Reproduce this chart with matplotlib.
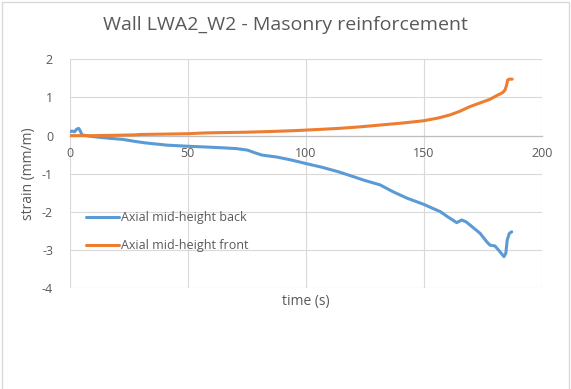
import matplotlib
matplotlib.use("Agg")
import matplotlib.pyplot as plt
from matplotlib.patches import Rectangle

# Strain at mid-height, back gauge
time_back = [0, 1, 2, 3, 3.8, 4.5, 5.2, 8, 12, 17, 22.7, 27.5, 32, 41.4, 50.7,
             58.4, 65, 70.7, 75.4, 78, 81.5, 87.7, 94, 100, 107, 114, 119,
             124.8, 131.5, 137, 143, 150, 154, 157, 160, 164, 166.1, 168,
             169.6, 173.9, 176.7, 178.1, 180.2, 182.3, 184, 184.8, 185.4,
             186.3, 187.3]
strain_back = [0.1, 0.12, 0.1, 0.17, 0.19, 0.12, 0.02, -0.01, -0.04, -0.07,
               -0.1, -0.15, -0.19, -0.25, -0.28, -0.30, -0.32, -0.34, -0.38,
               -0.44, -0.51, -0.56, -0.64, -0.73, -0.83, -0.95, -1.05, -1.17,
               -1.29, -1.47, -1.64, -1.80, -1.91, -1.99, -2.12, -2.28, -2.21,
               -2.26, -2.34, -2.56, -2.78, -2.87, -2.89, -3.04, -3.17, -3.08,
               -2.73, -2.56, -2.52]

# Strain at mid-height, front gauge
time_front = [0, 10, 20, 27.5, 30, 40, 50, 57, 65, 75, 86, 95, 105, 114, 123,
              132, 141, 150, 156, 161, 165, 169.6, 174, 178, 181, 183.5, 184.5,
              185.1, 185.6, 186.3, 187.5]
strain_front = [0.0, 0.0, 0.01, 0.02, 0.03, 0.04, 0.05, 0.07, 0.08, 0.09, 0.11,
                0.13, 0.16, 0.19, 0.23, 0.28, 0.33, 0.39, 0.46, 0.54, 0.63,
                0.76, 0.86, 0.95, 1.05, 1.13, 1.20, 1.32, 1.46, 1.48, 1.48]

series_labels = ["Axial mid-height back", "Axial mid-height front"]
x_ticks = [0, 50, 100, 150, 200]
y_ticks = [-4, -3, -2, -1, 0, 1, 2]

plt.rcParams["font.family"] = ["Open Sans", "DejaVu Sans"]
plt.rcParams["axes.unicode_minus"] = False
text_color = "#595959"
grid_color = "#D9D9D9"

W, H = 571, 389
fig = plt.figure(figsize=(W / 100, H / 100), dpi=100)

# thin outer frame around the chart
fig.patches.append(Rectangle((2 / W, -0.01), (569 - 2) / W, 1.0 + 0.01 - 1.5 / H,
                             transform=fig.transFigure, fill=False,
                             edgecolor="#D9D9D9", linewidth=1.0))

left, right, top, bottom = 69.7, 541.7, 59.3, 288.3
ax = fig.add_axes([left / W, (H - bottom) / H, (right - left) / W, (bottom - top) / H])

ax.plot(time_back, strain_back, color="#5B9BD5", lw=2.2, solid_joinstyle="round",
        solid_capstyle="round", label=series_labels[0], zorder=3)
ax.plot(time_front, strain_front, color="#ED7D31", lw=2.2, solid_joinstyle="round",
        solid_capstyle="round", label=series_labels[1], zorder=3)

ax.set_xlim(0, 200)
ax.set_ylim(-4, 2)
ax.set_xticks(x_ticks)
ax.set_yticks(y_ticks)
ax.grid(True, color=grid_color, lw=0.8, zorder=0)
ax.set_axisbelow(True)

for side in ["top", "right", "left"]:
    ax.spines[side].set_visible(False)
ax.spines["bottom"].set_position(("data", 0))
ax.spines["bottom"].set_color("#BFBFBF")
ax.spines["bottom"].set_linewidth(0.9)
ax.spines["bottom"].set_zorder(1)

ax.tick_params(axis="both", length=0, labelsize=9, colors=text_color)
ax.tick_params(axis="x", pad=8)
ax.tick_params(axis="y", pad=12)

ax.set_ylabel("strain (mm/m)", fontsize=10, color=text_color, labelpad=4)
fig.text((left + right) / 2 / W, 1 - 301.7 / H, "time (s)", fontsize=10,
         color=text_color, ha="center", va="center")
fig.text(0.5, 1 - 25 / H, "Wall LWA2_W2 - Masonry reinforcement", fontsize=14,
         color=text_color, ha="center", va="center")

leg = ax.legend(loc="upper left", bbox_to_anchor=(0.024, 0.359), frameon=False,
                fontsize=9, labelcolor=text_color, handlelength=2.65,
                handletextpad=0.15, labelspacing=1.19, borderaxespad=0)

fig.savefig("out.png", dpi=100)
